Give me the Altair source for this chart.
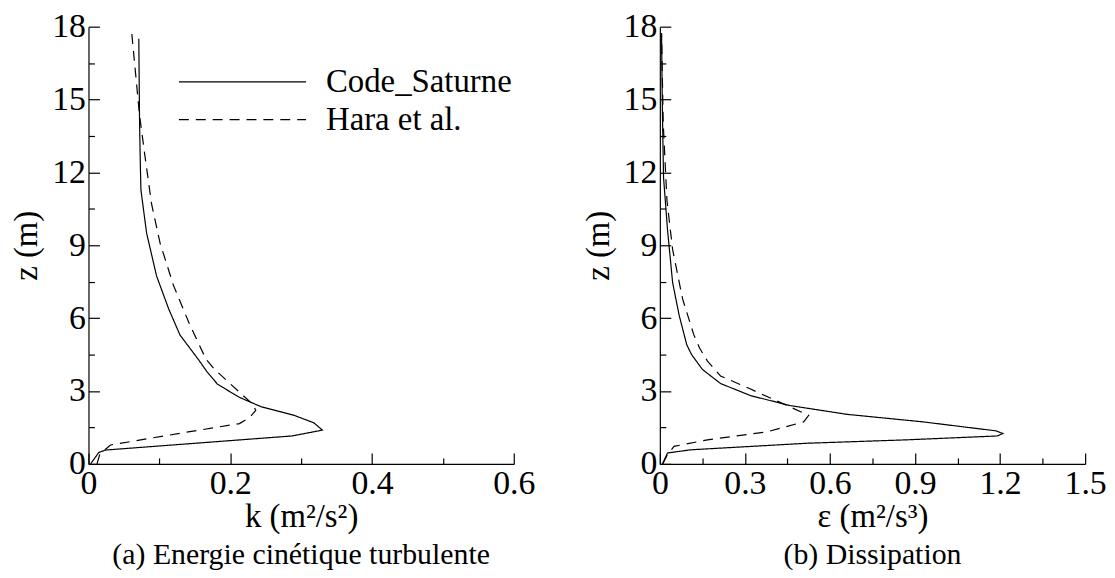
import altair as alt
import pandas as pd

# ---- data ----
series = ["Code_Saturne", "Hara et al."]

# (a) turbulent kinetic energy k (m2/s2) vs z (m)
z_cs_k = [0.0, 0.47, 0.57, 1.15, 1.39, 1.69, 2.0, 2.36, 2.74, 3.28, 3.8, 4.3, 5.31, 6.39, 7.74, 9.5, 11.27, 12.5, 14.2, 17.5]
k_cs = [0.003, 0.0145, 0.024, 0.287, 0.33, 0.318, 0.29, 0.243, 0.213, 0.182, 0.167, 0.155, 0.129, 0.113, 0.096, 0.082, 0.074, 0.073, 0.072, 0.071]
z_hara_k = [0.0, 0.4, 0.78, 1.26, 1.66, 1.93, 2.2, 2.45, 2.95, 3.89, 4.3, 5.72, 7.34, 9.09, 10.7, 12.6, 14.36, 17.74]
k_hara = [0.012, 0.016, 0.031, 0.129, 0.213, 0.228, 0.236, 0.232, 0.213, 0.178, 0.166, 0.143, 0.120, 0.101, 0.089, 0.080, 0.072, 0.061]

# (b) dissipation eps (m2/s3) vs z (m)
z_cs_e = [0.0, 0.45, 0.58, 0.85, 0.99, 1.15, 1.25, 1.36, 1.73, 2.04, 2.4, 2.81, 3.31, 3.89, 4.5, 4.9, 6.12, 7.47, 9.64, 11.8, 14.5, 17.74]
e_cs = [0.0095, 0.027, 0.109, 0.519, 0.87, 1.19, 1.21, 1.186, 0.928, 0.66, 0.46, 0.32, 0.214, 0.15, 0.112, 0.095, 0.068, 0.045, 0.027, 0.013, 0.009, 0.006]
z_hara_e = [0.0, 0.38, 0.72, 0.99, 1.32, 1.73, 2.0, 2.4, 3.08, 3.62, 4.23, 4.77, 5.31, 6.8, 8.83, 10.85, 14.0, 17.7]
e_hara = [0.01, 0.027, 0.05, 0.168, 0.378, 0.507, 0.525, 0.449, 0.32, 0.214, 0.168, 0.14, 0.12, 0.08, 0.045, 0.025, 0.012, 0.006]

k_major = [0, 0.2, 0.4, 0.6]
k_minor = [0.1, 0.3, 0.5]
e_major = [0, 0.3, 0.6, 0.9, 1.2, 1.5]
e_minor = [0.15, 0.45, 0.75, 1.05, 1.35]
z_major = [0, 3, 6, 9, 12, 15, 18]
z_minor = [1.5, 4.5, 7.5, 10.5, 13.5, 16.5]

FONT = "Liberation Serif"
TICK_FS = 34
AXTITLE_FS = 33
SUB_FS = 30
W, H = 428, 440


def frame(xs, zs, name):
    return pd.DataFrame({"x": xs, "z": zs, "series": name, "i": list(range(len(xs)))})


def panel(xv, zv, xh, zh, xdom, xmaj, xmin, xtitle, subtitle, show_legend):
    df = pd.concat([frame(xv, zv, series[0]), frame(xh, zh, series[1])], ignore_index=True)
    xs = alt.Scale(domain=xdom, nice=False, zero=False)
    ys = alt.Scale(domain=[0, 18], nice=False, zero=False)

    if show_legend:
        leg = alt.Legend(
            title=None, orient="none", legendX=90, legendY=40,
            symbolType="stroke", symbolSize=128 * 128, symbolStrokeWidth=1.2,
            symbolStrokeColor="black", symbolOffset=0, labelOffset=19,
            labelFont=FONT, labelFontSize=33, labelColor="black", labelLimit=400,
            clipHeight=31, rowPadding=4, padding=0,
        )
    else:
        leg = None

    main = alt.Chart(df).mark_line(color="black", strokeWidth=1.2).encode(
        x=alt.X("x:Q", scale=xs, axis=alt.Axis(
            values=xmaj, title=xtitle, ticks=False, tickSize=0, labelPadding=3,
            titlePadding=0, format=".1~f", labelFlush=False, labelOverlap=False,
            grid=False, orient="bottom")),
        y=alt.Y("z:Q", scale=ys, axis=alt.Axis(
            values=z_major, title="z (m)", ticks=False, tickSize=0, labelPadding=3,
            titlePadding=8, format="d", labelFlush=False, labelOverlap=False,
            grid=False, orient="left")),
        strokeDash=alt.StrokeDash(
            "series:N",
            scale=alt.Scale(domain=series, range=[[1, 0], [10, 7]]),
            legend=leg,
        ),
        order="i:Q",
    )

    def tick_layer(xvals, zvals, size):
        return alt.Chart(df).mark_line(strokeOpacity=0).encode(
            x=alt.X("x:Q", scale=xs, axis=alt.Axis(
                values=xvals, orient="bottom", offset=-size, tickSize=size,
                domain=False, labels=False, title=None, grid=False,
                tickColor="black", tickWidth=1.2)),
            y=alt.Y("z:Q", scale=ys, axis=alt.Axis(
                values=zvals, orient="left", offset=-size, tickSize=size,
                domain=False, labels=False, title=None, grid=False,
                tickColor="black", tickWidth=1.2)),
            detail="series:N",
            order="i:Q",
        )

    return alt.layer(main, tick_layer(xmaj, z_major, 11), tick_layer(xmin, z_minor, 6)).resolve_axis(
        x="independent", y="independent"
    ).properties(
        width=W, height=H,
        title=alt.TitleParams(subtitle, orient="bottom", font=FONT, fontSize=SUB_FS,
                              fontWeight="normal", color="black", offset=7),
    )


left = panel(k_cs, z_cs_k, k_hara, z_hara_k, [0, 0.6], k_major, k_minor,
             "k (m²/s²)", "(a) Energie cinétique turbulente", True)
right = panel(e_cs, z_cs_e, e_hara, z_hara_e, [0, 1.5], e_major, e_minor,
              "ε (m²/s³)", "(b) Dissipation", False)

chart = alt.hconcat(left, right, spacing=47).resolve_scale(
    strokeDash="independent"
).resolve_legend(strokeDash="independent").properties(
    padding={"left": 3, "top": 0, "right": 0, "bottom": 0},
    background="white",
).configure_view(stroke=None).configure_axis(
    labelFont=FONT, labelFontSize=TICK_FS, labelColor="black",
    titleFont=FONT, titleFontSize=AXTITLE_FS, titleFontWeight="normal", titleColor="black",
    domainColor="black", domainWidth=1.2,
)

chart.save("out.html", embed_options={"renderer": "svg", "actions": False})
